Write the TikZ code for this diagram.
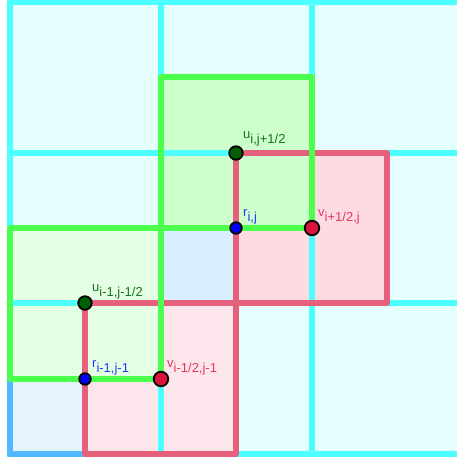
\documentclass[tikz,border=0pt]{standalone}
\usepackage{fontspec}
\setmainfont{Liberation Sans}
\definecolor{cellfill}{HTML}{E5FFFF}
\definecolor{cellline}{HTML}{4DFFFF}
\definecolor{greenline}{HTML}{4DFF4D}
\definecolor{greenfillA}{HTML}{CCFFCC}
\definecolor{greenfillB}{HTML}{E5FFE5}
\definecolor{pinkline}{HTML}{E5607A}
\definecolor{pinkfillA}{HTML}{FCDCE2}
\definecolor{pinkfillB}{HTML}{FDE6EB}
\definecolor{blueline}{HTML}{50B8FF}
\definecolor{bluefillA}{HTML}{E5F3FF}
\definecolor{bluefillB}{HTML}{D9EEFF}
\definecolor{upt}{RGB}{0,95,0}
\definecolor{ulab}{RGB}{25,115,25}
\definecolor{rpt}{RGB}{0,0,255}
\definecolor{rlab}{RGB}{30,60,255}
\definecolor{vpt}{RGB}{220,20,60}
\definecolor{vlab}{RGB}{228,55,90}
\newcommand\sbx[1]{\raisebox{-5pt}{#1}}
\begin{document}
\begin{tikzpicture}[x=1pt,y=-1pt,
  gridline/.style={draw=cellline,line width=6pt},
  bluebox/.style={draw=blueline,line width=6pt,line join=round},
  pinkbox/.style={draw=pinkline,line width=6pt,line join=round},
  greenbox/.style={draw=greenline,line width=6pt,line join=round},
  ptbase/.style={circle,inner sep=0pt,draw=black,line width=1.8pt},
  upoint/.style={ptbase,fill=upt,minimum size=13.5pt},
  rpoint/.style={ptbase,fill=rpt,minimum size=11.5pt},
  vpoint/.style={ptbase,fill=vpt,minimum size=14.5pt},
  lab/.style={anchor=base west,inner sep=0pt,font=\fontsize{13}{15}\selectfont}]
\useasboundingbox (0,0) rectangle (457,461);
\clip (0,0) rectangle (457,461);
% fills
\fill[cellfill] (10,2) rectangle (463,454);
\fill[bluefillA] (10,379) rectangle (85,454);
\fill[bluefillB] (161,228) rectangle (236,303);
\fill[pinkfillA] (236,153) rectangle (387,303);
\fill[pinkfillB] (85,303) rectangle (236,454);
\fill[greenfillA] (161,77) rectangle (312,228);
\fill[greenfillB] (10,228) rectangle (161,379);
% grid lines
\foreach \x in {10,161,312} \draw[gridline] (\x,-3) -- (\x,457);
\foreach \y in {2,153,303,454} \draw[gridline] (7,\y) -- (466,\y);
% blue boxes
\draw[bluebox] (10,379) rectangle (85,454);
\draw[bluebox] (161,228) rectangle (236,303);
% pink boxes
\draw[pinkbox] (236,153) rectangle (387,303);
\draw[pinkbox] (85,303) rectangle (236,454);
% green boxes
\draw[greenbox] (161,77) rectangle (312,228);
\draw[greenbox] (10,228) rectangle (161,379);
% points
\node[upoint] (u1) at (236,153) {};
\node[rpoint] (r1) at (236,228) {};
\node[vpoint] (v1) at (312,228) {};
\node[upoint] (u2) at (85,303) {};
\node[rpoint] (r2) at (85,379) {};
\node[vpoint] (v2) at (161,379) {};
% labels
\node[lab,text=ulab] (lu1) at (243,138) {u\sbx{i,j+1/2}};
\node[lab,text=rlab] (lr1) at (243,216) {r\sbx{i,j}};
\node[lab,text=vlab] (lv1) at (318,216) {v\sbx{i+1/2,j}};
\node[lab,text=ulab] (lu2) at (92,291) {u\sbx{i-1,j-1/2}};
\node[lab,text=rlab] (lr2) at (92,367) {r\sbx{i-1,j-1}};
\node[lab,text=vlab] (lv2) at (167,367) {v\sbx{i-1/2,j-1}};
\end{tikzpicture}
\end{document}
